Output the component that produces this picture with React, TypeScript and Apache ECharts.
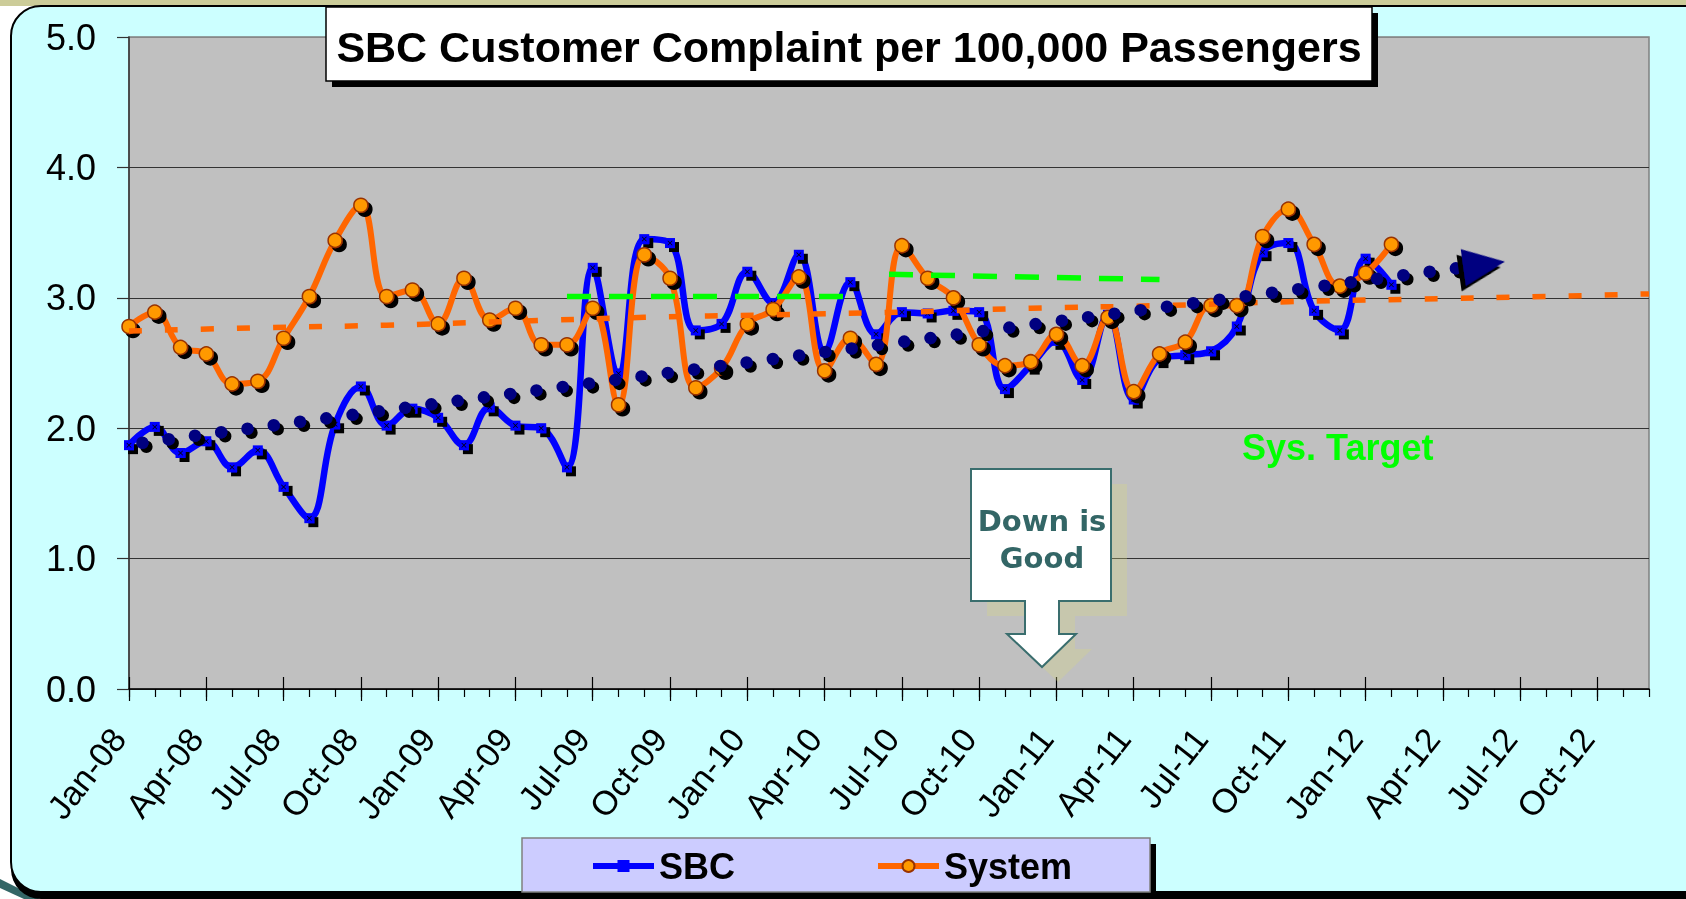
import React, { useEffect, useRef } from 'react';
import * as echarts from 'echarts';

// ---------- data ----------
const MONTH_NAMES = ['Jan', 'Feb', 'Mar', 'Apr', 'May', 'Jun', 'Jul', 'Aug', 'Sep', 'Oct', 'Nov', 'Dec'];
const YEARS = ['08', '09', '10', '11', '12'];
const CATEGORIES = YEARS.flatMap((y) => MONTH_NAMES.map((m) => `${m}-${y}`));

const TITLE = 'SBC Customer Complaint per 100,000 Passengers';

const SBC = [
  1.87, 2.01, 1.81, 1.9, 1.7, 1.83, 1.55, 1.31, 2.03, 2.32, 2.02, 2.15,
  2.08, 1.87, 2.16, 2.02, 2.0, 1.7, 3.23, 2.42, 3.45, 3.42, 2.75, 2.8,
  3.2, 2.96, 3.33, 2.59, 3.12, 2.72, 2.89, 2.88, 2.9, 2.89, 2.3, 2.48,
  2.67, 2.37, 2.87, 2.22, 2.53, 2.56, 2.59, 2.78, 3.35, 3.42, 2.9, 2.75,
  3.3, 3.1,
];
const SYSTEM = [
  2.78, 2.89, 2.62, 2.57, 2.34, 2.36, 2.69, 3.01, 3.44, 3.71, 3.01, 3.06,
  2.8, 3.15, 2.83, 2.92, 2.64, 2.64, 2.92, 2.18, 3.33, 3.15, 2.31, 2.46,
  2.8, 2.91, 3.16, 2.44, 2.69, 2.49, 3.4, 3.15, 3.0, 2.64, 2.48, 2.51,
  2.72, 2.48, 2.85, 2.28, 2.57, 2.66, 2.94, 2.94, 3.47, 3.68, 3.41, 3.09,
  3.19, 3.41,
];

// trend lines (month index from Jan-08, value)
const SYS_TREND_X = [0, 5, 10, 15, 20, 25, 30, 35, 40, 45, 50, 55, 59];
const SYS_TREND_Y = [2.745, 2.77, 2.79, 2.82, 2.85, 2.87, 2.89, 2.92, 2.94, 2.97, 2.99, 3.01, 3.03];
const SBC_TREND_X = [0, 52.6];
const SBC_TREND_Y = [1.875, 3.255];

// system targets
const TARGET_A_X = [17, 28];
const TARGET_A_Y = [3.01, 3.01];
const TARGET_B_X = [29.5, 40];
const TARGET_B_Y = [3.18, 3.14];

const Y_TICKS = [0, 1, 2, 3, 4, 5];

const pairs = (xs: number[], ys: number[]) => xs.map((x, i) => [x, ys[i]]);

const FONT = 'Liberation Sans';

const X_MARK = 'path://M0,1L1,0L5,4L9,0L10,1L6,5L10,9L9,10L5,6L1,10L0,9L4,5Z';

function buildOption() {
  const sbcTrend: any[] = pairs(SBC_TREND_X, SBC_TREND_Y);
  const last = sbcTrend.length - 1;
  sbcTrend[last] = {
    value: sbcTrend[last],
    symbol: 'triangle',
    symbolSize: [37, 42],
    symbolRotate: -82,
  };

  const callout = [
    [971, 469], [1111, 469], [1111, 601], [1059, 601], [1059, 634], [1076, 634],
    [1042, 667], [1007, 634], [1025, 634], [1025, 601], [971, 601],
  ];
  const calloutShadow = callout.map(([x, y]) => [x + 16, y + 15]);

  return {
    animation: false,
    textStyle: { fontFamily: FONT },
    title: {
      text: TITLE,
      left: 849,
      top: 25,
      padding: 0,
      textAlign: 'center',
      textVerticalAlign: 'top',
      textStyle: { fontFamily: FONT, fontSize: 43, fontWeight: 'bold', color: '#000' },
    },
    legend: {
      data: ['SBC', 'System'],
      left: 590,
      top: 848,
      padding: 0,
      itemWidth: 61,
      itemHeight: 15,
      itemGap: 140,
      selectedMode: false,
      lineStyle: { width: 6 },
      textStyle: { fontFamily: FONT, fontSize: 36, fontWeight: 'bold', color: '#000' },
    },
    grid: {
      left: 129,
      right: 37,
      top: 37,
      bottom: 210,
      show: true,
      backgroundColor: '#C0C0C0',
      borderColor: '#808080',
      borderWidth: 1.5,
    },
    xAxis: [
      {
        type: 'category',
        data: CATEGORIES,
        boundaryGap: false,
        position: 'bottom',
        axisLine: { show: true, lineStyle: { color: '#000', width: 1.5 } },
        axisTick: { show: true, interval: 2, length: 12, lineStyle: { color: '#000', width: 1.2 } },
        axisLabel: {
          interval: 2,
          rotate: 52,
          margin: 30,
          padding: [0, 17, 0, 0],
          fontFamily: FONT,
          fontSize: 34,
          color: '#000',
        },
        splitLine: { show: false },
      },
      {
        type: 'category',
        data: CATEGORIES,
        boundaryGap: false,
        position: 'bottom',
        axisLine: { show: false },
        axisTick: { show: true, interval: 0, length: 8, lineStyle: { color: '#000', width: 1.2 } },
        axisLabel: { show: false },
        splitLine: { show: false },
      },
      {
        type: 'category',
        data: CATEGORIES,
        boundaryGap: false,
        position: 'bottom',
        axisLine: { show: false },
        axisTick: { show: true, interval: 2, inside: true, length: 12, lineStyle: { color: '#000', width: 1.2 } },
        axisLabel: { show: false },
        splitLine: { show: false },
      },
      { type: 'value', min: 0, max: CATEGORIES.length - 1, show: false },
    ],
    yAxis: {
      type: 'value',
      min: Y_TICKS[0],
      max: Y_TICKS[Y_TICKS.length - 1],
      interval: 1,
      axisLine: { show: true, lineStyle: { color: '#333', width: 1.5 } },
      axisTick: { show: true, length: 12, lineStyle: { color: '#333', width: 1.2 } },
      axisLabel: {
        formatter: (v: number) => v.toFixed(1),
        fontFamily: FONT,
        fontSize: 36,
        color: '#000',
        margin: 33,
      },
      splitLine: {
        show: true,
        lineStyle: { color: ['#333', '#333', '#333', '#333', '#333', '#888'], width: 1.2 },
      },
    },
    series: [
      {
        name: 'SBC',
        type: 'line',
        xAxisIndex: 0,
        data: SBC,
        smooth: 0.4,
        symbol: 'rect',
        symbolSize: 10,
        lineStyle: { color: '#0000FF', width: 6.5 },
        itemStyle: { color: '#0000FF', shadowColor: '#000', shadowOffsetX: 4, shadowOffsetY: 4, shadowBlur: 0 },
        z: 3,
      },
      {
        name: 'SBC-x',
        type: 'line',
        xAxisIndex: 0,
        data: SBC,
        symbol: X_MARK,
        symbolSize: 5,
        lineStyle: { width: 0, opacity: 0 },
        itemStyle: { color: '#000' },
        silent: true,
        z: 3.5,
      },
      {
        name: 'System',
        type: 'line',
        xAxisIndex: 0,
        data: SYSTEM,
        smooth: 0.4,
        symbol: 'circle',
        symbolSize: 14,
        lineStyle: { color: '#FF6600', width: 6 },
        itemStyle: {
          color: '#FF9900',
          borderColor: '#993300',
          borderWidth: 1.5,
          shadowColor: '#000',
          shadowOffsetX: 4,
          shadowOffsetY: 4,
          shadowBlur: 0,
        },
        z: 4,
      },
      {
        name: 'System trend',
        type: 'line',
        xAxisIndex: 3,
        data: pairs(SYS_TREND_X, SYS_TREND_Y),
        smooth: true,
        symbol: 'none',
        lineStyle: { color: '#FF6600', width: 5.5, type: [13, 23] },
        silent: true,
        z: 5,
      },
      {
        name: 'SBC trend',
        type: 'line',
        xAxisIndex: 3,
        data: sbcTrend,
        symbol: 'none',
        lineStyle: {
          color: '#000080',
          width: 12.5,
          type: [0, 26.5],
          cap: 'round',
          dashOffset: 12.5,
          shadowColor: '#000',
          shadowOffsetX: 4,
          shadowOffsetY: 4,
          shadowBlur: 0,
        },
        itemStyle: { color: '#000080', shadowColor: '#000', shadowOffsetX: 5, shadowOffsetY: 5, shadowBlur: 0 },
        silent: true,
        z: 6,
      },
      {
        name: 'Target FY10',
        type: 'line',
        xAxisIndex: 3,
        data: pairs(TARGET_A_X, TARGET_A_Y),
        symbol: 'none',
        lineStyle: { color: '#00FF00', width: 5.5, type: [24, 18] },
        silent: true,
        z: 6,
      },
      {
        name: 'Target FY11',
        type: 'line',
        xAxisIndex: 3,
        data: pairs(TARGET_B_X, TARGET_B_Y),
        symbol: 'none',
        lineStyle: { color: '#00FF00', width: 5.5, type: [24, 18] },
        silent: true,
        z: 6,
      },
    ],
    graphic: [
      { type: 'rect', silent: true, z: -20, shape: { x: 0, y: 0, width: 1686, height: 899 }, style: { fill: '#FFFFFF' } },
      { type: 'rect', silent: true, z: -19, shape: { x: 0, y: 0, width: 1686, height: 6 }, style: { fill: '#CCCC99' } },
      { type: 'polygon', silent: true, z: -18, shape: { points: [[0, 879], [0, 888], [24, 899], [40, 899]] }, style: { fill: '#336666' } },
      { type: 'rect', silent: true, z: -17, shape: { x: 11, y: 13, width: 1720, height: 886, r: 30 }, style: { fill: '#000' } },
      {
        type: 'rect', silent: true, z: -16,
        shape: { x: 11, y: 6, width: 1720, height: 886, r: 30 },
        style: { fill: '#CCFFFF', stroke: '#000', lineWidth: 2 },
      },
      // title box
      { type: 'rect', silent: true, z: 5, shape: { x: 332, y: 13, width: 1046, height: 74 }, style: { fill: '#000' } },
      {
        type: 'rect', silent: true, z: 5.5,
        shape: { x: 326, y: 7, width: 1046, height: 74 },
        style: { fill: '#FFFFFF', stroke: '#000', lineWidth: 1.5 },
      },
      // legend box
      { type: 'rect', silent: true, z: 3, shape: { x: 528, y: 844, width: 628, height: 54 }, style: { fill: '#000' } },
      {
        type: 'rect', silent: true, z: 3.5,
        shape: { x: 522, y: 838, width: 628, height: 54 },
        style: { fill: '#CCCCFF', stroke: '#808080', lineWidth: 1.5 },
      },
      // Down is Good callout
      { type: 'polygon', silent: true, z: 1, shape: { points: calloutShadow }, style: { fill: 'rgba(214,214,130,0.3)' } },
      {
        type: 'polygon', silent: true, z: 1.2,
        shape: { points: callout },
        style: { fill: '#FFFFFF', stroke: '#3A6E6E', lineWidth: 2 },
      },
      {
        type: 'text', silent: true, z: 1.4, x: 1042, y: 539,
        style: {
          text: 'Down is\nGood',
          fill: '#336666',
          font: 'bold 29px "DejaVu Sans"',
          lineHeight: 37,
          align: 'center',
          verticalAlign: 'middle',
          textAlign: 'center',
          textVerticalAlign: 'middle',
        },
      },
      {
        type: 'text', silent: true, z: 1.4, x: 1242, y: 447,
        style: {
          text: 'Sys. Target',
          fill: '#00FF00',
          font: `bold 36px "${FONT}"`,
          align: 'left',
          verticalAlign: 'middle',
          textAlign: 'left',
          textVerticalAlign: 'middle',
          textShadowColor: 'rgba(214,214,140,0.85)',
          textShadowOffsetX: 3,
          textShadowOffsetY: 5,
          textShadowBlur: 0,
        },
      },
    ],
  };
}

export default function App() {
  const ref = useRef<HTMLDivElement>(null);
  useEffect(() => {
    if (!ref.current) return;
    const chart = echarts.init(ref.current, null, { renderer: 'svg' });
    chart.setOption(buildOption() as any);
    return () => chart.dispose();
  }, []);
  return (
    <div
      ref={ref}
      style={{ position: 'fixed', left: 0, top: 0, width: 1686, height: 899 }}
    />
  );
}
